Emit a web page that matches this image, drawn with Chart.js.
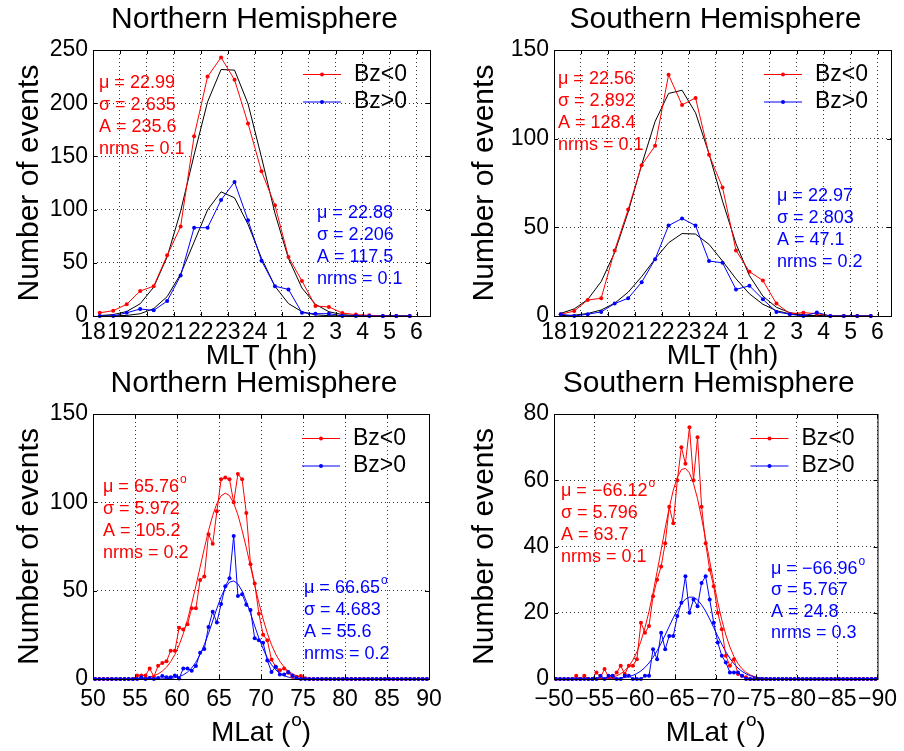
<!DOCTYPE html>
<html><head><meta charset="utf-8">
<script src="https://cdn.jsdelivr.net/npm/chart.js@4/dist/chart.umd.min.js"></script>
<style>
html,body{margin:0;padding:0;background:#fff;}
#wrap{position:relative;width:904px;height:751px;overflow:hidden;background:#fff;}
canvas{position:absolute;}
</style></head><body>
<div id="wrap">
<canvas id="c1" width="452" height="375" style="left:0;top:0;width:452px;height:375px"></canvas>
<canvas id="c2" width="452" height="375" style="left:452px;top:0;width:452px;height:375px"></canvas>
<canvas id="c3" width="452" height="396" style="left:0;top:355px;width:452px;height:396px"></canvas>
<canvas id="c4" width="452" height="396" style="left:452px;top:355px;width:452px;height:396px"></canvas>
</div>
<script>
// ---------- categories / bins ----------
const mltBins = [18.25,18.75,19.25,19.75,20.25,20.75,21.25,21.75,22.25,22.75,23.25,23.75,
                 24.25,24.75,25.25,25.75,26.25,26.75,27.25,27.75,28.25,28.75,29.25,29.75];
const latBins = [50.25,50.75,51.25,51.75,52.25,52.75,53.25,53.75,54.25,54.75,
                 55.25,55.75,56.25,56.75,57.25,57.75,58.25,58.75,59.25,59.75,
                 60.25,60.75,61.25,61.75,62.25,62.75,63.25,63.75,64.25,64.75,
                 65.25,65.75,66.25,66.75,67.25,67.75,68.25,68.75,69.25,69.75,
                 70.25,70.75,71.25,71.75,72.25,72.75,73.25,73.75,74.25,74.75,
                 75.25,75.75,76.25,76.75,77.25,77.75,78.25,78.75,79.25,79.75,
                 80.25,80.75,81.25,81.75,82.25,82.75,83.25,83.75,84.25,84.75,
                 85.25,85.75,86.25,86.75,87.25,87.75,88.25,88.75,89.25,89.75];
const shLatBins = latBins.map(v => -v);

// ---------- tick values / labels ----------
const mltTickValues = [18,19,20,21,22,23,24,25,26,27,28,29,30];
const mltTickLabels = ['18','19','20','21','22','23','24','1','2','3','4','5','6'];
const nhLatTickValues = [50,55,60,65,70,75,80,85,90];
const nhLatTickLabels = ['50','55','60','65','70','75','80','85','90'];
const shLatTickValues = [-50,-55,-60,-65,-70,-75,-80,-85,-90];
const shLatTickLabels = ['\u221250','\u221255','\u221260','\u221265','\u221270','\u221275','\u221280','\u221285','\u221290'];
const yTicksNhMlt = [0,50,100,150,200,250];
const yTicksShMlt = [0,50,100,150];
const yTicksNhLat = [0,50,100,150];
const yTicksShLat = [0,20,40,60,80];

// ---------- series: MLT ----------
const nhMltNeg    = [3,5,11,23.5,28,57,84,169,225,243,222,181,136,104,55.5,33,9.4,8.5,2.8,1.3,0.6,0,0,0];
const nhMltPos    = [0,0,3,6.6,5.3,14,38,83,83,109,126,90,52,28,25,3,2.2,2.2,0,0,0,0,0,0];
const nhMltNegFit = [0.4,1.3,4.2,11.5,27.1,55.5,98.5,151.3,201.3,231.7,231.1,199.5,149.1,96.5,54.1,26.3,11.0,4.0,1.3,0.3,0.1,0,0,0];
const nhMltPosFit = [0,0.1,0.5,2.1,6.9,18.2,39.4,69.5,99.8,116.7,111.1,86.1,54.3,27.9,11.7,4.0,1.1,0.3,0,0,0,0,0,0];
const shMltNeg    = [1,2.8,9,10,37,60,85,96,136,119,123,91,72.5,37,25,20,7,1.3,1.9,1.3,0,0,0,0];
const shMltPos    = [1,0,1,2.3,7,10,19,32,51,55,51,31,30,15,17,9.4,2.3,1,0,2,0,0,0,0];
const shMltNegFit = [1.5,4.0,9.3,19.4,35.8,58.6,85.2,109.7,125.5,127.3,114.6,91.5,64.8,40.8,22.7,11.2,4.9,1.9,0.7,0.2,0,0,0,0];
const shMltPosFit = [0.2,0.5,1.4,3.4,7.2,13.4,22.2,32.2,41.3,46.5,46.2,40.4,31.0,21.0,12.5,6.6,3.0,1.2,0.4,0.1,0,0,0,0];

// ---------- series: MLat ----------
const nhLatNeg = [0,0,0,0,0,0,0,0,0,0,
  2,2,2,6,1.3,7.5,9,10,16,16,
  29,28,31,40,40,56,58,82,76.5,95,
  113,114,113,100,116,113,94,65,54,37,
  25,22,11,7,5,6,3.6,1.3,1.3,1.7,
  0.4,0,0,0,0,0,0,0,0,0,
  0,0,0,0,0,0,0,0,0,0,
  0,0,0,0,0,0,0,0,0,0];
const nhLatPos = [0,0,0,0,0,0,0,0,0,0,
  0,1,0,0.5,0,0.5,1.7,1,1,2,
  0.3,6,6,4.7,7.3,14.8,17,29.5,38,32,
  42.5,52.5,57,81,47,48,42,39,23,22,
  20.5,10.5,4,7,2.5,2.5,4,2,0.5,0,
  0,0,0,0,0,0,0,0,0,0,
  0,0,0,0,0,0,0,0,0,0,
  0,0,0,0,0,0,0,0,0,0];
const nhLatNegFit = [0,0,0,0,0,0,0,0,0.05,0.11,
  0.21,0.38,0.66,1.11,1.81,2.88,4.45,6.69,9.77,13.9,
  19.2,25.7,33.6,42.7,52.7,63.3,73.9,83.9,92.6,99.4,
  103.7,105.2,103.8,99.6,92.9,84.2,74.3,63.7,53.1,43.1,
  34.0,26.0,19.4,14.1,9.9,6.8,4.5,2.9,1.85,1.13,
  0.67,0.39,0.22,0.12,0,0,0,0,0,0,
  0,0,0,0,0,0,0,0,0,0,
  0,0,0,0,0,0,0,0,0,0];
const nhLatPosFit = [0,0,0,0,0,0,0,0,0,0,
  0,0,0,0,0,0.04,0.09,0.19,0.38,0.72,
  1.33,2.33,3.89,6.22,9.51,13.9,19.4,25.8,32.9,40.0,
  46.5,51.6,54.8,55.5,53.8,49.8,44.0,37.2,30.0,23.1,
  17.1,12.0,8.07,5.19,3.18,1.87,1.05,0.56,0.29,0.14,
  0,0,0,0,0,0,0,0,0,0,
  0,0,0,0,0,0,0,0,0,0,
  0,0,0,0,0,0,0,0,0,0];
const shLatNeg = [0,0,0,0,0,1,0,1,0,0,
  2,0.5,3,0.5,0.5,2,4,1.5,4,4,
  6,17,14,16,25,30,34,41,52,47,
  60,70,65,76,60,73,52,41,33,28,
  20,15,7,4,6,1.5,1,0.5,0,0,
  0,0,0,0,0,0,0,0,0,0,
  0,0,0,0,0,0,0,0,0,0,
  0,0,0,0,0,0,0,0,0,0];
const shLatPos = [0,0,0,0,0,0,0,0,0,0,
  0,1,0,1,1,0,0,1,1,0,
  0,0,1,1,9,6,14,9,13,13,
  19,23,31,20,24,22,29,31,24,17,
  11,7,5,2,2,2,1,0,0,0,
  0,0,0,0,0,0,0,0,0,0,
  0,0,0,0,0,0,0,0,0,0,
  0,0,0,0,0,0,0,0,0,0];
const shLatNegFit = [0,0,0,0,0,0,0,0,0,0.03,
  0.06,0.11,0.19,0.34,0.59,0.98,1.60,2.51,3.84,5.69,
  8.19,11.4,15.5,20.4,26.1,32.4,39.0,45.6,51.7,57.0,
  60.9,63.2,63.6,62.2,59.0,54.4,48.6,42.2,35.6,29.1,
  23.1,17.8,13.3,9.65,6.80,4.65,3.09,1.99,1.24,0.76,
  0.45,0.25,0.14,0.07,0,0,0,0,0,0,
  0,0,0,0,0,0,0,0,0,0,
  0,0,0,0,0,0,0,0,0,0];
const shLatPosFit = [0,0,0,0,0,0,0,0,0,0,
  0,0,0.02,0.05,0.09,0.15,0.26,0.43,0.69,1.09,
  1.65,2.44,3.49,4.85,6.53,8.54,10.8,13.3,15.9,18.5,
  20.8,22.7,24.1,24.7,24.7,23.9,22.4,20.5,18.1,15.5,
  12.9,10.5,8.2,6.24,4.61,3.30,2.30,1.55,1.01,0.64,
  0.40,0.24,0.14,0.08,0.04,0,0,0,0,0,
  0,0,0,0,0,0,0,0,0,0,
  0,0,0,0,0,0,0,0,0,0];

// ---------- text ----------
const legendLabels = ['Bz<0','Bz>0'];
const nhTitle = 'Northern Hemisphere';
const shTitle = 'Southern Hemisphere';
const mltAxisTitle = 'MLT (hh)';
const latAxisTitle = 'MLat (^o^)';
const yAxisTitle = 'Number of events';
const nhMltNegStats = ['\u03bc = 22.99','\u03c3 = 2.635','A = 235.6','nrms = 0.1'];
const nhMltPosStats = ['\u03bc = 22.88','\u03c3 = 2.206','A = 117.5','nrms = 0.1'];
const shMltNegStats = ['\u03bc = 22.56','\u03c3 = 2.892','A = 128.4','nrms = 0.1'];
const shMltPosStats = ['\u03bc = 22.97','\u03c3 = 2.803','A = 47.1','nrms = 0.2'];
const nhLatNegStats = ['\u03bc = 65.76^o','\u03c3 = 5.972','A = 105.2','nrms = 0.2'];
const nhLatPosStats = ['\u03bc = 66.65^o','\u03c3 = 4.683','A = 55.6','nrms = 0.2'];
const shLatNegStats = ['\u03bc = \u221266.12^o','\u03c3 = 5.796','A = 63.7','nrms = 0.1'];
const shLatPosStats = ['\u03bc = \u221266.96^o','\u03c3 = 5.767','A = 24.8','nrms = 0.3'];

// ---------- styling ----------
const FONT = "'Liberation Sans', Arial, Helvetica, sans-serif";
const RED = '#ff0000', BLUE = '#0000ff', BLACK = '#000000';

function richText(ctx, str, x, y, size, color, align) {
  const parts = str.split('^');
  const supSize = Math.round(size * 0.68);
  let total = 0;
  const widths = parts.map((p, i) => {
    ctx.font = (i % 2 ? supSize : size) + 'px ' + FONT;
    const w = ctx.measureText(p).width + (i % 2 ? 1 : 0);
    total += w; return w;
  });
  let cx = align === 'center' ? x - total / 2 : x;
  ctx.fillStyle = color; ctx.textAlign = 'left'; ctx.textBaseline = 'middle';
  parts.forEach((p, i) => {
    const sup = i % 2 === 1;
    ctx.font = (sup ? supSize : size) + 'px ' + FONT;
    ctx.fillText(p, cx + (sup ? 1 : 0), sup ? y - size * 0.42 : y);
    cx += widths[i];
  });
}

const decor = {
  id: 'decor',
  afterDraw(chart, args, o) {
    const ctx = chart.ctx, a = chart.chartArea;
    const xs = chart.scales.x, ys = chart.scales.y;
    ctx.save();
    // frame
    ctx.strokeStyle = BLACK; ctx.lineWidth = 1;
    ctx.strokeRect(a.left + 0.5, a.top + 0.5, a.right - a.left, a.bottom - a.top);
    // inward ticks
    ctx.beginPath();
    xs.ticks.forEach(t => {
      const px = Math.round(xs.getPixelForValue(t.value)) + 0.5;
      ctx.moveTo(px, a.bottom); ctx.lineTo(px, a.bottom - 4);
      ctx.moveTo(px, a.top); ctx.lineTo(px, a.top + 4);
    });
    ys.ticks.forEach(t => {
      const py = Math.round(ys.getPixelForValue(t.value)) + 0.5;
      ctx.moveTo(a.left, py); ctx.lineTo(a.left + 4, py);
      ctx.moveTo(a.right, py); ctx.lineTo(a.right - 4, py);
    });
    ctx.stroke();
    // title
    richText(ctx, o.title, (a.left + a.right) / 2 - 7, a.top - 30, 30, BLACK, 'center');
    // x axis title
    richText(ctx, o.xTitle, (a.left + a.right) / 2, a.bottom + o.xTitleDy, 28, BLACK, 'center');
    // legend
    o.legendColors.forEach((c, i) => {
      const y = a.top + 24.5 + i * 27.5;
      ctx.strokeStyle = c; ctx.lineWidth = 1;
      ctx.beginPath(); ctx.moveTo(a.right - 127, y); ctx.lineTo(a.right - 89, y); ctx.stroke();
      ctx.fillStyle = c; ctx.beginPath(); ctx.arc(a.right - 108, y, 2, 0, Math.PI * 2); ctx.fill();
      richText(ctx, legendLabels[i], a.right - 76, y, 23, BLACK, 'left');
    });
    // statistics annotations
    o.stats.forEach(s => {
      s.lines.forEach((ln, i) => {
        richText(ctx, ln, a.left + s.dx, a.top + s.dy + i * s.gap, 18, s.color, 'left');
      });
    });
    ctx.restore();
  }
};

function series(xs, ys, color, pts) {
  return {
    data: xs.map((x, i) => ({ x: x, y: ys[i] })),
    borderColor: color, backgroundColor: color,
    borderWidth: 1, pointRadius: pts ? 2 : 0, pointBorderWidth: 0,
    pointBackgroundColor: color, pointHoverRadius: 0,
    showLine: true, tension: 0, clip: false
  };
}

function makeChart(id, cfg) {
  const tickFont = { family: FONT, size: 23 };
  return new Chart(document.getElementById(id), {
    type: 'scatter',
    data: { datasets: cfg.datasets },
    options: {
      responsive: false, animation: false, devicePixelRatio: 1, events: [],
      layout: { padding: { left: 0, top: cfg.padTop, right: cfg.padRight, bottom: 0 } },
      scales: {
        x: {
          type: 'linear', position: 'bottom', min: cfg.xMin, max: cfg.xMax, reverse: !!cfg.xReverse,
          afterBuildTicks: s => { s.ticks = cfg.xTickValues.map(v => ({ value: v })); },
          afterFit: s => { s.height = cfg.xHeight; },
          ticks: { autoSkip: false, maxRotation: 0, minRotation: 0, padding: cfg.xTickPad, color: BLACK, font: tickFont,
                   callback: (v) => cfg.xTickLabels[cfg.xTickValues.indexOf(v)] },
          grid: { color: '#333', lineWidth: 1, drawTicks: false, borderDash: [1, 3] },
          border: { display: false, dash: [1, 3] }
        },
        y: {
          type: 'linear', position: 'left', min: 0, max: cfg.yTicks[cfg.yTicks.length - 1],
          afterBuildTicks: s => { s.ticks = cfg.yTicks.map(v => ({ value: v })); },
          afterFit: s => { s.width = cfg.yWidth; },
          ticks: { padding: 5, color: BLACK, font: tickFont, callback: v => String(v) },
          grid: { color: '#333', lineWidth: 1, drawTicks: false, borderDash: [1, 3] },
          border: { display: false, dash: [1, 3] },
          title: { display: true, text: yAxisTitle, color: BLACK, font: { family: FONT, size: 30 },
                   padding: { top: cfg.yTitlePad, bottom: 0 } }
        }
      },
      plugins: {
        legend: { display: false }, tooltip: { enabled: false },
        decor: cfg.decor
      }
    },
    plugins: [decor]
  });
}

// ---- Top-left: Northern MLT ----
makeChart('c1', {
  datasets: [
    series(mltBins, nhMltPos, BLUE, true),
    series(mltBins, nhMltNeg, RED, true),
    series(mltBins, nhMltPosFit, BLACK, false),
    series(mltBins, nhMltNegFit, BLACK, false)
  ],
  xMin: 18, xMax: 30.5, xTickValues: mltTickValues, xTickLabels: mltTickLabels, xTickPad: 3,
  yTicks: yTicksNhMlt, padTop: 50, padRight: 22, xHeight: 59, yWidth: 93, yTitlePad: 12,
  decor: { title: nhTitle, xTitle: mltAxisTitle, xTitleDy: 40, legendColors: [RED, BLUE],
    stats: [ { lines: nhMltNegStats, color: RED, dx: 6, dy: 33, gap: 22 },
             { lines: nhMltPosStats, color: BLUE, dx: 224, dy: 163, gap: 22 } ] }
});

// ---- Top-right: Southern MLT ----
makeChart('c2', {
  datasets: [
    series(mltBins, shMltPos, BLUE, true),
    series(mltBins, shMltNeg, RED, true),
    series(mltBins, shMltPosFit, BLACK, false),
    series(mltBins, shMltNegFit, BLACK, false)
  ],
  xMin: 18, xMax: 30.5, xTickValues: mltTickValues, xTickLabels: mltTickLabels, xTickPad: 3,
  yTicks: yTicksShMlt, padTop: 50, padRight: 13, xHeight: 59, yWidth: 102, yTitlePad: 15,
  decor: { title: shTitle, xTitle: mltAxisTitle, xTitleDy: 40, legendColors: [RED, BLUE],
    stats: [ { lines: shMltNegStats, color: RED, dx: 4, dy: 29, gap: 22 },
             { lines: shMltPosStats, color: BLUE, dx: 223, dy: 146, gap: 22 } ] }
});

// ---- Bottom-left: Northern MLat ----
makeChart('c3', {
  datasets: [
    series(latBins, nhLatPos, BLUE, true),
    series(latBins, nhLatNeg, RED, true),
    series(latBins, nhLatPosFit, BLUE, false),
    series(latBins, nhLatNegFit, RED, false)
  ],
  xMin: 50, xMax: 90, xTickValues: nhLatTickValues, xTickLabels: nhLatTickLabels, xTickPad: 7,
  yTicks: yTicksNhLat, padTop: 59, padRight: 23, xHeight: 72, yWidth: 93, yTitlePad: 12,
  decor: { title: nhTitle, xTitle: latAxisTitle, xTitleDy: 54, legendColors: [RED, BLUE],
    stats: [ { lines: nhLatNegStats, color: RED, dx: 10, dy: 73, gap: 22 },
             { lines: nhLatPosStats, color: BLUE, dx: 211, dy: 174, gap: 22 } ] }
});

// ---- Bottom-right: Southern MLat ----
makeChart('c4', {
  datasets: [
    series(shLatBins, shLatPos, BLUE, true),
    series(shLatBins, shLatNeg, RED, true),
    series(shLatBins, shLatPosFit, BLUE, false),
    series(shLatBins, shLatNegFit, RED, false)
  ],
  xMin: -90, xMax: -50, xReverse: true, xTickValues: shLatTickValues, xTickLabels: shLatTickLabels, xTickPad: 7,
  yTicks: yTicksShLat, padTop: 59, padRight: 13, xHeight: 72, yWidth: 102, yTitlePad: 15,
  decor: { title: shTitle, xTitle: latAxisTitle, xTitleDy: 54, legendColors: [RED, BLUE],
    stats: [ { lines: shLatNegStats, color: RED, dx: 7, dy: 77, gap: 22 },
             { lines: shLatPosStats, color: BLUE, dx: 217, dy: 155, gap: 21.5 } ] }
});
</script>
</body></html>
